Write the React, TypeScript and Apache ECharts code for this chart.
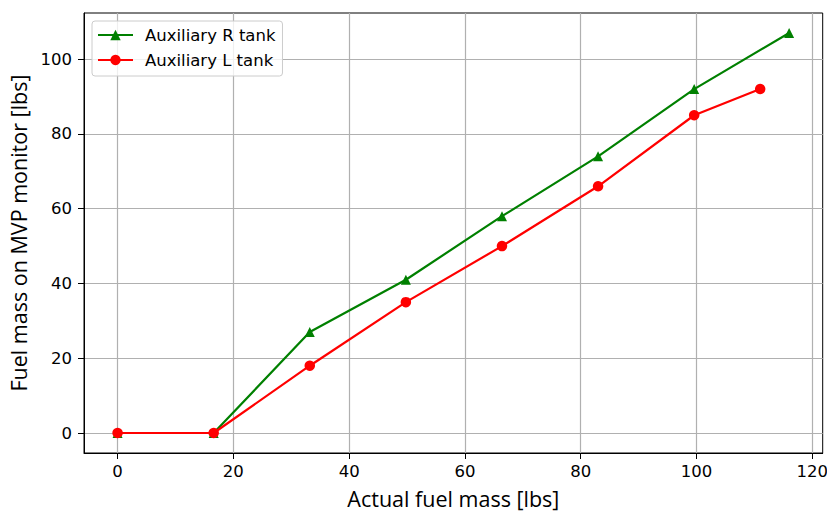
import React, { useEffect, useRef } from "react";
import * as echarts from "echarts";

const actualMassR = [0, 16.6, 33.2, 49.8, 66.4, 83.0, 99.6, 116.0];
const monitorR = [0, 0, 27, 41, 58, 74, 92, 107];
const actualMassL = [0, 16.6, 33.2, 49.8, 66.4, 83.0, 99.6, 111.0];
const monitorL = [0, 0, 18, 35, 50, 66, 85, 92];
const xTicks = [0, 20, 40, 60, 80, 100, 120];
const yTicks = [0, 20, 40, 60, 80, 100];
const seriesNames = ["Auxiliary R tank", "Auxiliary L tank"];

const TICK_FONT = "DejaVu Sans";
const TITLE_FONT = "Open Sans";

export default function App() {
  const ref = useRef<HTMLDivElement>(null);
  useEffect(() => {
    if (!ref.current) return;
    const chart = echarts.init(ref.current, null, { renderer: "svg" });
    const axisCommon = {
      axisLine: { show: true, onZero: false, lineStyle: { color: "#000", width: 1 } },
      axisTick: { show: true, inside: false, length: 6, lineStyle: { color: "#000", width: 1 } },
      splitLine: { show: true, lineStyle: { color: "#b0b0b0", width: 1.2 } },
      nameLocation: "middle" as const,
      nameTextStyle: { fontFamily: TITLE_FONT, fontSize: 21.5, color: "#000" },
    };
    chart.setOption({
      animation: false,
      backgroundColor: "#fff",
      grid: {
        left: 84,
        right: 4.3,
        top: 13,
        bottom: 59,
        containLabel: false,
        outerBoundsMode: "none",
        show: true,
        borderColor: "#000",
        borderWidth: 1,
        backgroundColor: "transparent",
      },
      legend: {
        left: 92,
        top: 21,
        orient: "vertical",
        data: seriesNames,
        itemWidth: 35,
        itemHeight: 13,
        itemGap: 5,
        padding: [4, 7, 6, 5],
        backgroundColor: "rgba(255,255,255,0.8)",
        borderColor: "#cccccc",
        borderWidth: 1,
        borderRadius: 3,
        textStyle: {
          fontFamily: TICK_FONT,
          fontSize: 16.5,
          color: "#000",
          lineHeight: 20,
          padding: [0, 0, 0, 7],
        },
      },
      xAxis: {
        type: "value",
        min: -5.8,
        max: 121.8,
        name: "Actual fuel mass [lbs]",
        nameGap: 34,
        ...axisCommon,
        axisTick: { ...axisCommon.axisTick, customValues: xTicks },
        axisLabel: {
          customValues: xTicks,
          margin: 10,
          fontFamily: TICK_FONT,
          fontSize: 16.5,
          color: "#000",
        },
        splitLine: { ...axisCommon.splitLine },
      },
      yAxis: {
        type: "value",
        min: -5.35,
        max: 112.35,
        name: "Fuel mass on MVP monitor [lbs]",
        nameGap: 48,
        ...axisCommon,
        axisTick: { ...axisCommon.axisTick, customValues: yTicks },
        axisLabel: {
          customValues: yTicks,
          margin: 12,
          fontFamily: TICK_FONT,
          fontSize: 16.5,
          color: "#000",
        },
      },
      series: [
        {
          name: seriesNames[0],
          type: "line",
          data: actualMassR.map((x, i) => [x, monitorR[i]]),
          symbol: "triangle",
          symbolSize: 10,
          showAllSymbol: true,
          color: "#008000",
          lineStyle: { color: "#008000", width: 2.2 },
          itemStyle: { color: "#008000" },
          z: 3,
        },
        {
          name: seriesNames[1],
          type: "line",
          data: actualMassL.map((x, i) => [x, monitorL[i]]),
          symbol: "circle",
          symbolSize: 10.5,
          showAllSymbol: true,
          color: "#ff0000",
          lineStyle: { color: "#ff0000", width: 2.2 },
          itemStyle: { color: "#ff0000" },
          z: 4,
        },
      ],
    });
    return () => chart.dispose();
  }, []);
  return (
    <div
      ref={ref}
      style={{ position: "fixed", left: 0, top: 0, width: 827, height: 512 }}
    />
  );
}
